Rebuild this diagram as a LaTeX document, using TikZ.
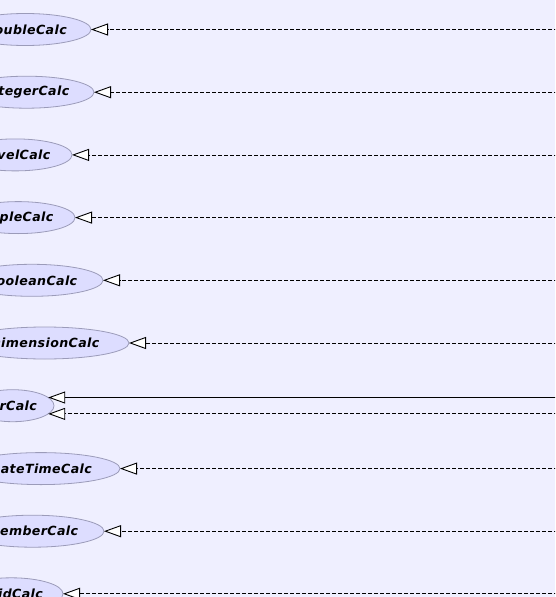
\documentclass[tikz,border=0pt]{standalone}
\usepackage{fontspec}
\newfontfamily\lblfont{DejaVu Sans}[LetterSpace=3]
\usetikzlibrary{arrows.meta,shapes.geometric}
\definecolor{bgcol}{RGB}{239,239,255}
\definecolor{nodefill}{RGB}{221,221,255}
\definecolor{nodeline}{RGB}{155,155,185}
\newcommand\lblstyle{\lblfont\bfseries\itshape\fontsize{12.6}{15}\selectfont}
\tikzset{
  calcnode/.style={ellipse, draw=nodeline, fill=nodefill, line width=0.8pt,
    inner xsep=5pt, inner ysep=0pt, outer sep=0pt, minimum height=32pt,
    anchor=east, font=\lblstyle},
  inhtip/.style={-{Triangle[length=17pt,width=12pt,fill=white,line width=0.9pt]}},
  dashededge/.style={inhtip, line width=0.8pt, dash pattern=on 4pt off 2pt},
  solidedge/.style={inhtip, line width=0.8pt}
}
\begin{document}
\begin{tikzpicture}[x=1pt,y=-1pt]
\useasboundingbox (0,0) rectangle (555,597);
\fill[bgcol] (0,0) rectangle (555,597);
\clip (0,0) rectangle (555,597);
\coordinate (R) at (570,0);
\node[calcnode] (dbl) at (91,29.5) {DoubleCalc};
\node[calcnode] (int) at (94,92.2) {IntegerCalc};
\node[calcnode] (lvl) at (72,154.9) {LevelCalc};
\node[calcnode] (tpl) at (75,217.6) {TupleCalc};
\node[calcnode] (bool) at (103,280.3) {BooleanCalc};
\node[calcnode] (dim) at (129,343) {DimensionCalc};
\node[calcnode] (orc) at (54,405.7) {OrCalc};
\node[calcnode] (dt) at (120,468.6) {DateTimeCalc};
\node[calcnode] (mem) at (104,531.2) {MemberCalc};
\node[calcnode] (vd) at (63,593.8) {VoidCalc};
\draw[dashededge] (R |- dbl.center) -- (dbl);
\draw[dashededge] (R |- int.center) -- (int);
\draw[dashededge] (R |- lvl.center) -- (lvl);
\draw[dashededge] (R |- tpl.center) -- (tpl);
\draw[dashededge] (R |- bool.center) -- (bool);
\draw[dashededge] (R |- dim.center) -- (dim);
\draw[solidedge] (R |- orc.13) -- (orc.13);
\draw[dashededge] (R |- orc.-13) -- (orc.-13);
\draw[dashededge] (R |- dt.center) -- (dt);
\draw[dashededge] (R |- mem.center) -- (mem);
\draw[dashededge] (R |- vd.center) -- (vd);
\end{tikzpicture}
\end{document}
